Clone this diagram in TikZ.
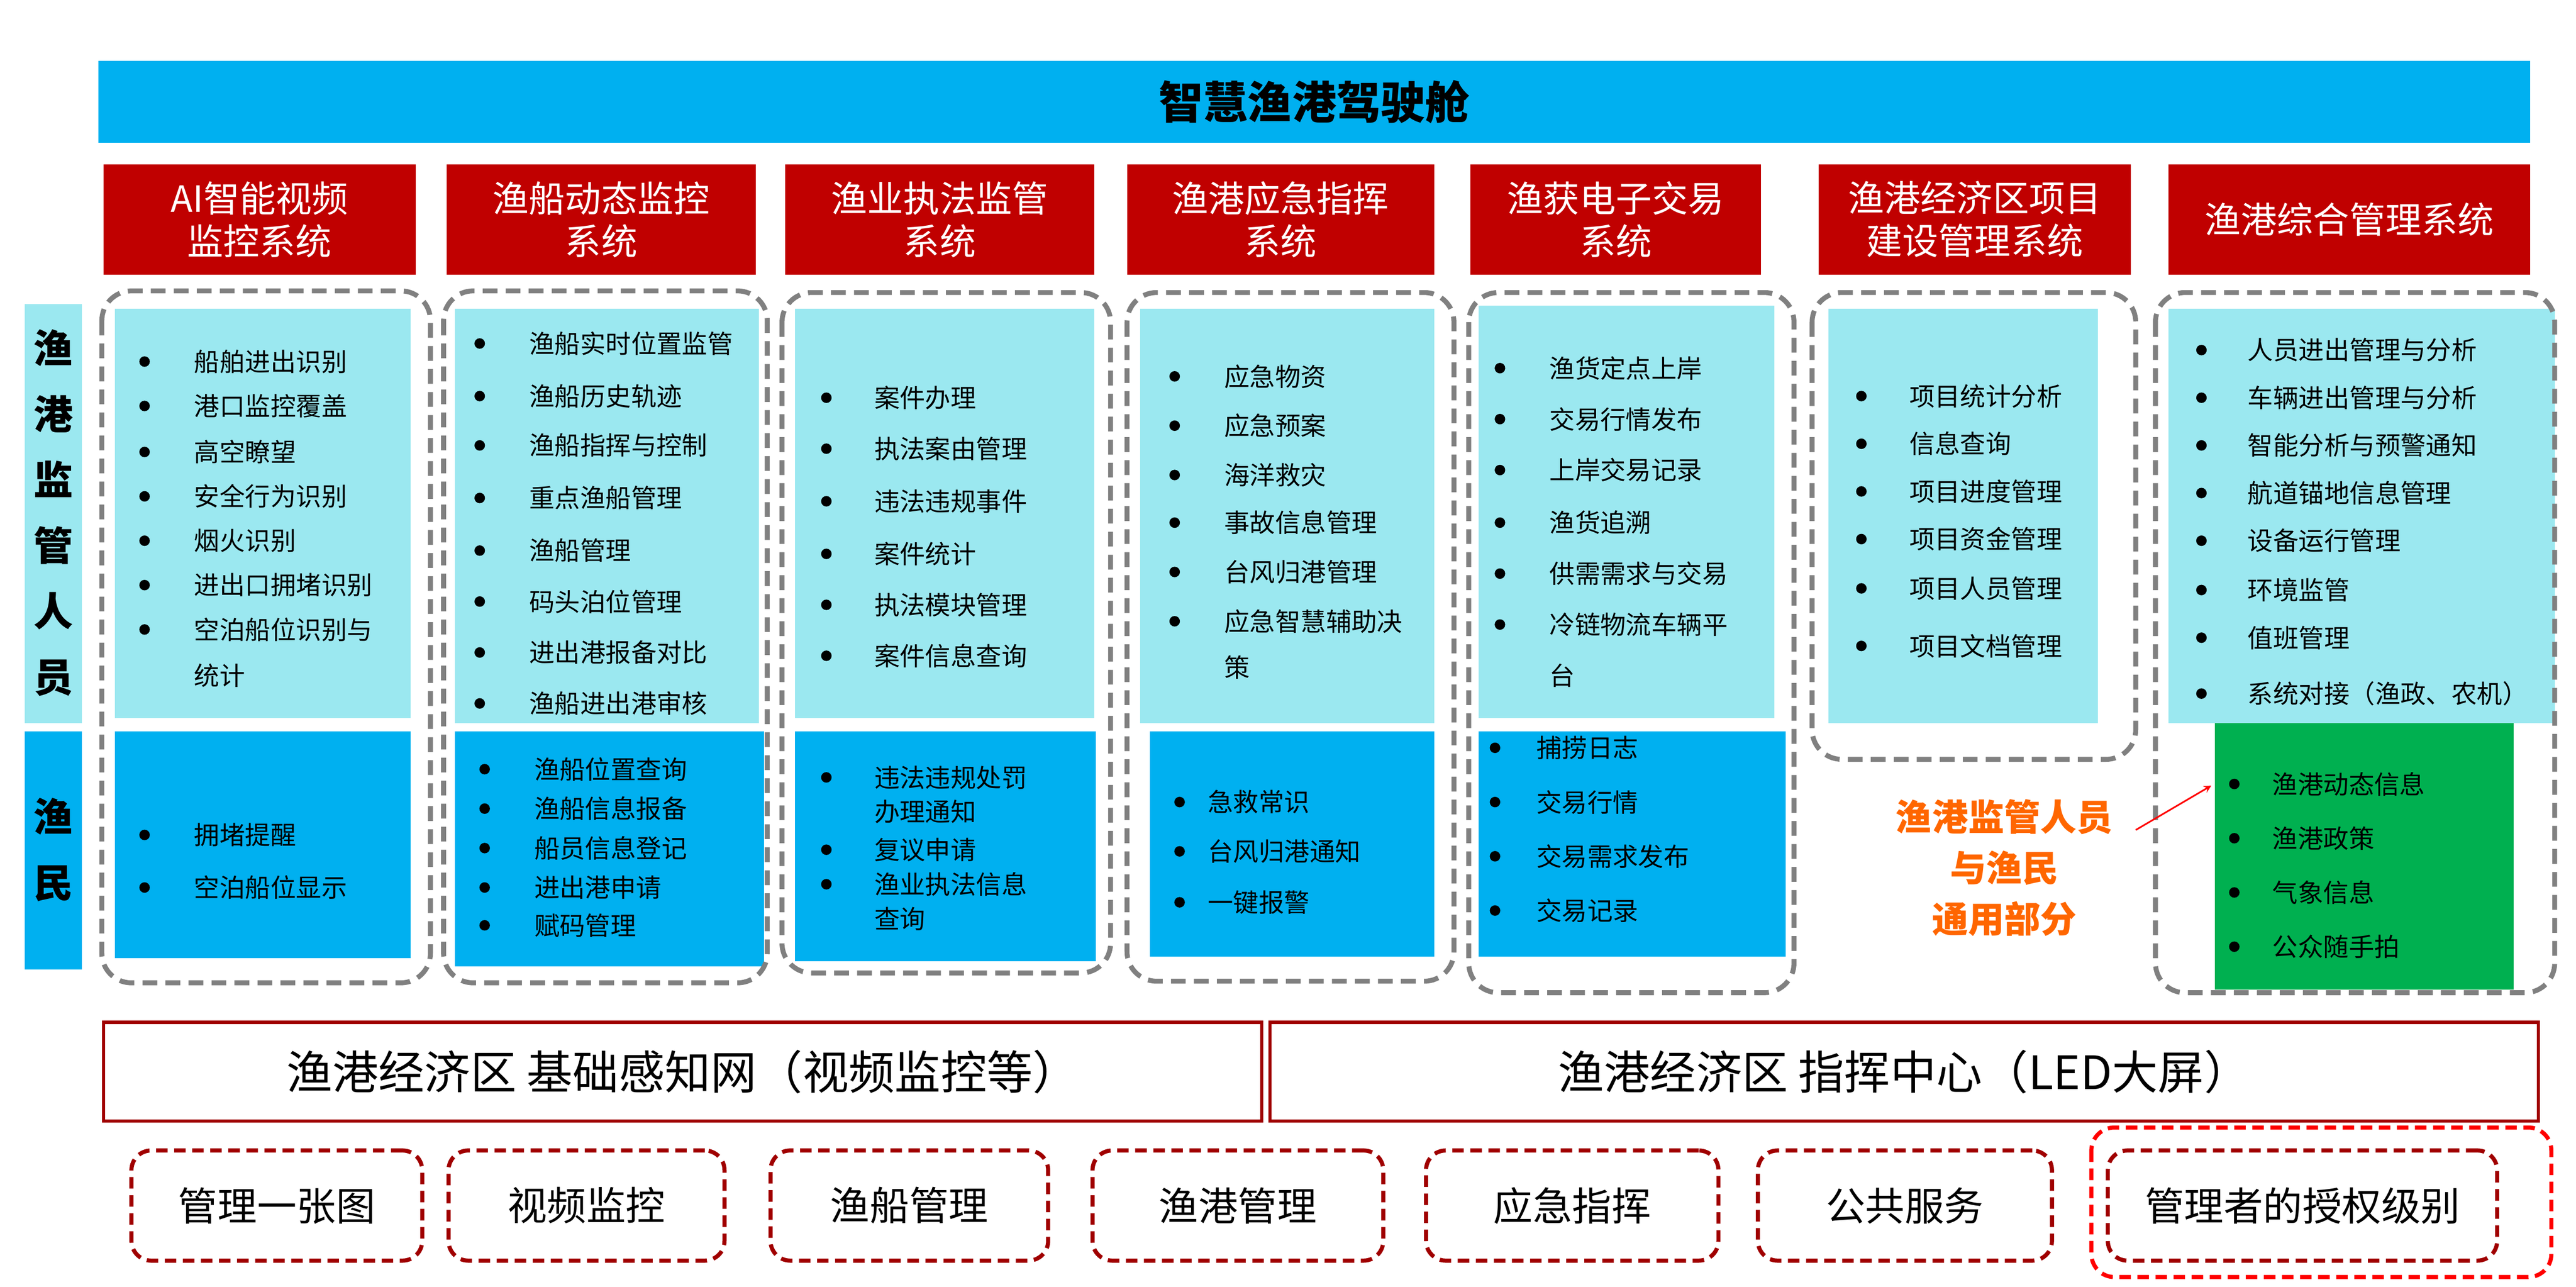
\documentclass[tikz,border=0pt]{standalone}
\usepackage{fontspec}
\setmainfont{Noto Sans CJK SC}
\usetikzlibrary{positioning}
\definecolor{barblue}{HTML}{00B0F0}
\definecolor{lightcyan}{HTML}{9BE8F0}
\definecolor{headred}{HTML}{C00000}
\definecolor{okgreen}{HTML}{00B050}
\definecolor{tagorange}{HTML}{FF6600}
\definecolor{darkred}{HTML}{A00000}
\tikzset{
  header/.style={fill=headred, text=white, font=\fontsize{22}{26}\selectfont, align=center, inner sep=0pt},
  colframe/.style={draw=gray, dashed, line width=3pt, rounded corners=18pt, dash pattern=on 9pt off 5pt},
  item/.style={anchor=west, font=\fontsize{15.5}{18}\selectfont, inner sep=0pt},
  basebox/.style={draw=darkred, line width=2pt, font=\fontsize{28}{33}\selectfont},
  tagbox/.style={draw=darkred, dashed, line width=2.5pt, rounded corners=12pt, dash pattern=on 7pt off 4pt, font=\fontsize{24}{28}\selectfont}
}
% one column of bullet items: bullet x, text x, list y/text/bullet
\newcommand*{\itemcol}[3]{%
  \foreach \y/\t/\b in {#3} {
    \node[item] (it-#2-\y) at (#2,\y) {\t};
    \ifnum\b=1 \fill (#1,\y) circle (3.2pt); \fi
  }}
\begin{document}
\begin{tikzpicture}[x=1pt, y=-1pt]
\useasboundingbox (0,0) rectangle (1568,783);

% title bar
\fill[barblue] (60,37) rectangle (1540,87);
\node[font=\fontsize{27}{30}\selectfont\bfseries] (title) at (800,62) {智慧渔港驾驶舱};

% headers
\foreach \xa/\xb/\t [count=\i] in {63/253/{AI智能视频\\监控系统}, 272/460/{渔船动态监控\\系统}, 478/666/{渔业执法监管\\系统}, 686/873/{渔港应急指挥\\系统}, 895/1072/{渔获电子交易\\系统}, 1107/1297/{渔港经济区项目\\建设管理系统}, 1320/1540/{渔港综合管理系统}}
  \node[header, minimum width=\xb pt-\xa pt, minimum height=67pt] (head\i) at ({(\xa+\xb)/2},133.5) {\t};

% row labels
\fill[lightcyan] (15,185) rectangle (50,440);
\node[font=\fontsize{24}{40}\selectfont\bfseries, align=center] (staff) at (32.5,312) {渔\\港\\监\\管\\人\\员};
\fill[barblue] (15,445) rectangle (50,590);
\node[font=\fontsize{24}{40}\selectfont\bfseries, align=center] (fisher) at (32.5,517) {渔\\民};

% column panels
\fill[lightcyan] (70,188) rectangle (250,437);   \fill[barblue] (70,445) rectangle (250,583);
\fill[lightcyan] (277,188) rectangle (462,440);  \fill[barblue] (277,445) rectangle (465,588);
\fill[lightcyan] (484,188) rectangle (666,437);  \fill[barblue] (484,445) rectangle (667,585);
\fill[lightcyan] (694,188) rectangle (873,440);  \fill[barblue] (700,445) rectangle (873,582);
\fill[lightcyan] (900,186) rectangle (1080,437); \fill[barblue] (900,445) rectangle (1087,582);
\fill[lightcyan] (1113,188) rectangle (1277,440);
\fill[lightcyan] (1320,188) rectangle (1555,440); \fill[okgreen] (1348,440) rectangle (1530,602);

\draw[colframe] (62,177) rectangle (262,598);
\draw[colframe] (270,177) rectangle (467,598);
\draw[colframe] (476,178) rectangle (676,592);
\draw[colframe] (686,178) rectangle (885,597);
\draw[colframe] (894,178) rectangle (1092,604);
\draw[colframe] (1103,178) rectangle (1300,462);
\draw[colframe] (1312,178) rectangle (1555,604);

% items
\itemcol{88}{118}{220/船舶进出识别/1, 247/港口监控覆盖/1, 275/高空瞭望/1, 302/安全行为识别/1, 329/烟火识别/1, 356/进出口拥堵识别/1, 383/空泊船位识别与/1, 411/统计/0, 508/拥堵提醒/1, 540/空泊船位显示/1}
\itemcol{292}{322}{209/渔船实时位置监管/1, 241/渔船历史轨迹/1, 271/渔船指挥与控制/1, 303/重点渔船管理/1, 335/渔船管理/1, 366/码头泊位管理/1, 397/进出港报备对比/1, 428/渔船进出港审核/1}
\itemcol{295}{325}{468/渔船位置查询/1, 492/渔船信息报备/1, 516/船员信息登记/1, 540/进出港申请/1, 563/赋码管理/1}
\itemcol{503}{532}{242/案件办理/1, 273/执法案由管理/1, 305/违法违规事件/1, 337/案件统计/1, 368/执法模块管理/1, 399/案件信息查询/1, 473/违法违规处罚/1, 494/办理通知/0, 517/复议申请/1, 538/渔业执法信息/1, 559/查询/0}
\itemcol{715}{745}{229/应急物资/1, 259/应急预案/1, 289/海洋救灾/1, 318/事故信息管理/1, 348/台风归港管理/1, 378/应急智慧辅助决/1, 406/策/0}
\itemcol{718}{735}{488/急救常识/1, 518/台风归港通知/1, 549/一键报警/1}
\itemcol{913}{943}{224/渔货定点上岸/1, 255/交易行情发布/1, 286/上岸交易记录/1, 318/渔货追溯/1, 349/供需需求与交易/1, 380/冷链物流车辆平/1, 411/台/0}
\itemcol{910}{935}{455/捕捞日志/1, 488/交易行情/1, 521/交易需求发布/1, 554/交易记录/1}
\itemcol{1133}{1162}{241/项目统计分析/1, 270/信息查询/1, 299/项目进度管理/1, 328/项目资金管理/1, 358/项目人员管理/1, 393/项目文档管理/1}
\itemcol{1340}{1368}{213/人员进出管理与分析/1, 242/车辆进出管理与分析/1, 271/智能分析与预警通知/1, 300/航道锚地信息管理/1, 329/设备运行管理/1, 359/环境监管/1, 388/值班管理/1, 422/系统对接（渔政、农机）/1}
\itemcol{1360}{1383}{477/渔港动态信息/1, 510/渔港政策/1, 543/气象信息/1, 576/公众随手拍/1}

% shared note
\node[text=tagorange, font=\fontsize{22}{31}\selectfont\bfseries, align=center] (shared) at (1220,528) {渔港监管人员\\与渔民\\通用部分};
\coordinate (notetail) at (1300,505);
\coordinate (greentip) at (1346,478);
\draw[-stealth, red, line width=1pt] (notetail) -- (greentip);

% base layer
\node[basebox, minimum width=705pt, minimum height=60pt] (sensenet) at (415.5,652) {渔港经济区 基础感知网（视频监控等）};
\node[basebox, minimum width=772pt, minimum height=60pt] (command) at (1159,652) {渔港经济区 指挥中心（LED大屏）};

% function tags
\foreach \xa/\xb/\t [count=\i] in {80/257/管理一张图, 273/441/视频监控, 469/638/渔船管理, 665/842/渔港管理, 868/1046/应急指挥, 1070/1249/公共服务, 1283/1520/管理者的授权级别}
  \node[tagbox, minimum width=\xb pt-\xa pt, minimum height=67pt] (tag\i) at ({(\xa+\xb)/2},733.5) {\t};
\draw[red, dashed, line width=2.5pt, rounded corners=14pt, dash pattern=on 7pt off 4pt] (1273,686) rectangle (1553,777);
\end{tikzpicture}
\end{document}
